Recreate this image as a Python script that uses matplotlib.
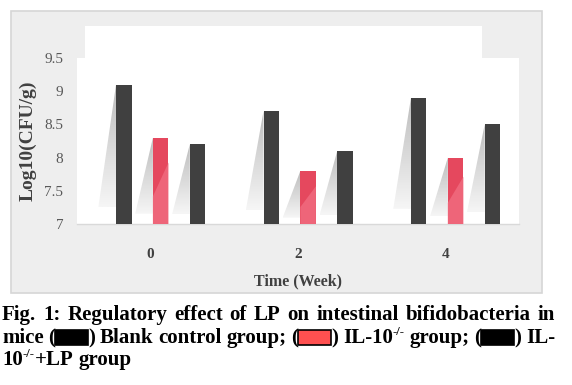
import matplotlib
matplotlib.use("Agg")
import matplotlib.pyplot as plt
import numpy as np
from matplotlib.colors import LinearSegmentedColormap
from matplotlib.patches import Polygon, Rectangle

# ── Data ─────────────────────────────────────────────────────────────────────
weeks = ["0", "2", "4"]
blank_control = [9.1, 8.7, 8.9]
il10_ko = [8.3, 7.8, 8.0]
il10_ko_lp = [8.2, 8.1, 8.5]
y_ticks = [7, 7.5, 8, 8.5, 9, 9.5]
y_tick_labels = ["7", "7.5", "8", "8.5", "9", "9.5"]

# ── Style ────────────────────────────────────────────────────────────────────
SERIF = "Liberation Serif"
DARK = "#404040"
RED = "#e5485e"
RED_LIGHT = "#ee6579"
W, H = 572, 385
BASE = 7.0

shadow_cmap = LinearSegmentedColormap.from_list("shadow", ["#f6f6f6", "#bcbcbc"])


def fx(px):
    return px / W


def fy(py):
    return 1 - py / H


fig = plt.figure(figsize=(W / 100, H / 100), dpi=100)

# chart frame (grey) with white title / plot regions
fig.add_artist(Rectangle((fx(11), fy(293)), fx(531), 282 / H, transform=fig.transFigure,
                         facecolor="#eeeeee", edgecolor="#d6d6d6", lw=1.2, zorder=0))
fig.add_artist(Rectangle((fx(85), fy(58)), fx(397), 32 / H, transform=fig.transFigure,
                         facecolor="white", edgecolor="none", zorder=0.5))

ax = fig.add_axes([fx(76.6), fy(224), fx(442.4), 166 / H])
ax.set_facecolor("white")

x = np.arange(len(weeks))
width = 0.105
offsets = [-0.18, 0.07, 0.32]
dx = 0.12

for series, off, color in zip([blank_control, il10_ko, il10_ko_lp], offsets, [DARK, RED, DARK]):
    ax.bar(x + off, np.array(series) - BASE, width, bottom=BASE, color=color, zorder=3)
    for xi, v in zip(x + off, series):
        xl = xi - width / 2
        xr = xi + width / 2
        h = v - BASE
        sb = BASE + 0.12 * h
        # fading shadow on the left of each bar
        poly = Polygon([(xl, v), (xl - dx, sb), (xl, sb)], closed=True,
                       facecolor="none", edgecolor="none", transform=ax.transData)
        ax.add_patch(poly)
        grad = np.linspace(0, 1, 100).reshape(-1, 1)
        im = ax.imshow(grad, cmap=shadow_cmap, origin="lower", aspect="auto",
                       extent=(xl - dx, xl, sb, v), zorder=2)
        im.set_clip_path(poly)
        if color == RED:
            ax.add_patch(Polygon([(xl, BASE), (xr, BASE), (xr, BASE + 0.71 * h),
                                  (xl, BASE + 0.32 * h)], closed=True,
                                 facecolor=RED_LIGHT, edgecolor="none", zorder=4))

ax.set_xlim(-0.5, 2.5)
ax.set_ylim(7, 9.5)
ax.set_yticks(y_ticks)
ax.set_yticklabels(y_tick_labels, fontfamily=SERIF, fontsize=11, color="#595959")
ax.set_xticks(x)
ax.set_xticklabels(weeks, fontfamily=SERIF, fontsize=11, fontweight="bold", color=DARK)
ax.tick_params(axis="y", length=0, pad=9.5)
ax.tick_params(axis="x", length=0, pad=17)
for s in ["top", "left", "right"]:
    ax.spines[s].set_visible(False)
ax.spines["bottom"].set_color("#d9d9d9")
ax.spines["bottom"].set_linewidth(1)

fig.text(fx(28), fy(141), "Log10(CFU/g)", rotation=90, ha="center", va="center",
         fontfamily=SERIF, fontsize=14, fontweight="bold", color=DARK)
fig.text(fx(297.8), fy(281), "Time (Week)", ha="center", va="center",
         fontfamily=SERIF, fontsize=11.5, fontweight="bold", color=DARK)

# ── Caption with inline legend swatches, justified ───────────────────────────
CAP = dict(fontfamily=SERIF, fontsize=15, fontweight="bold", color="black")
SUP = dict(fontfamily=SERIF, fontsize=9, fontweight="bold", color="black")
renderer = fig.canvas.get_renderer()


def text_width(s, style):
    t = fig.text(0, 0, s, **style)
    w = t.get_window_extent(renderer).width
    t.remove()
    return w


SPACE = text_width("a a", CAP) - text_width("aa", CAP)
BOX_W, BOX_H = 33, 15


def piece_width(p):
    kind, val = p
    if kind == "t":
        return text_width(val, CAP)
    if kind == "sup":
        return text_width(val, SUP)
    if kind == "box":
        return BOX_W
    return SPACE


def draw_line(baseline, pieces, x0=2, x1=None):
    widths = [piece_width(p) for p in pieces]
    n_sp = sum(1 for p in pieces if p[0] == "sp")
    extra = 0
    if x1 is not None and n_sp:
        extra = (x1 - x0 - sum(widths)) / n_sp
    cx = x0
    for p, w in zip(pieces, widths):
        kind, val = p
        if kind == "t":
            fig.text(fx(cx), fy(baseline), val, va="baseline", ha="left", **CAP)
        elif kind == "sup":
            fig.text(fx(cx), fy(baseline - 8), val, va="baseline", ha="left", **SUP)
        elif kind == "box":
            fig.add_artist(Rectangle((fx(cx), fy(baseline + 2)), fx(BOX_W), BOX_H / H,
                                     transform=fig.transFigure, facecolor=val,
                                     edgecolor="black", lw=1.2))
        else:
            w = w + extra
        cx += w


def words(s):
    out = []
    for i, wd in enumerate(s.split(" ")):
        if i:
            out.append(("sp", None))
        out.append(("t", wd))
    return out


line1 = words("Fig. 1: Regulatory effect of LP on intestinal bifidobacteria in")
line2 = (words("mice (") + [("box", "black")] + words(") Blank control group; (")
         + [("box", "#ff5050")] + words(") IL-10") + [("sup", "-/-")]
         + words(" group; (")[1:] + [("box", "black")] + words(") IL-"))
line3 = [("t", "10"), ("sup", "-/-"), ("t", "+LP"), ("sp", None), ("t", "group")]

draw_line(320, line1, x1=555)
draw_line(343, line2, x1=555)
draw_line(365, line3)

fig.savefig("out.png", dpi=100)
